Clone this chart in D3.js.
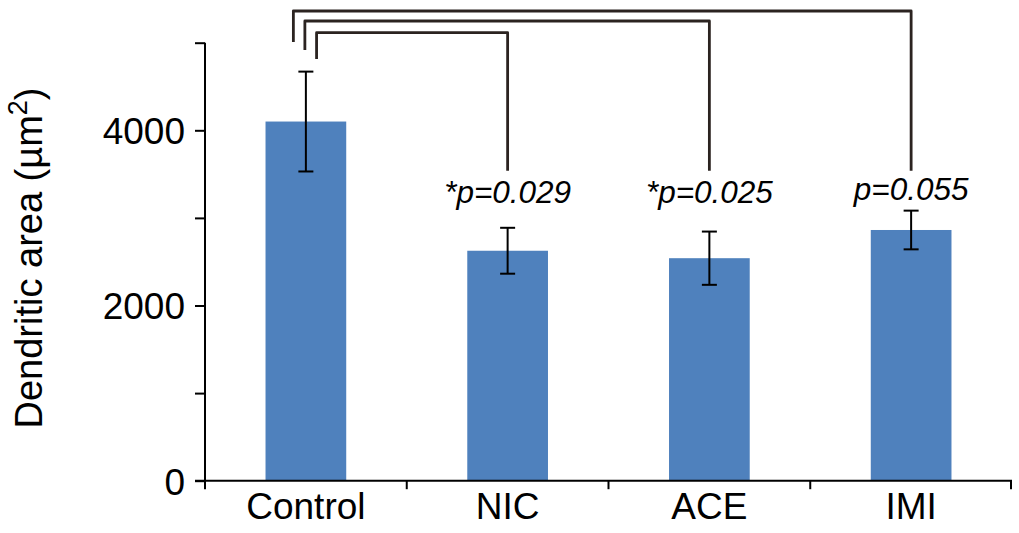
<!DOCTYPE html>
<html>
<head>
<meta charset="utf-8">
<script src="https://cdn.jsdelivr.net/npm/d3@7"></script>
<style>
  html, body { margin: 0; padding: 0; background: #fff; }
  svg { display: block; }
  text { font-family: "Liberation Sans", Arial, sans-serif; fill: #000; }
</style>
</head>
<body>
<svg id="chart" width="1019" height="533"></svg>
<script>
// Mean dendritic area per treatment group, with standard error
const categories = ["Control", "NIC", "ACE", "IMI"];
const meanArea = [4100, 2625, 2540, 2862];
const errArea = [570, 262, 304, 221];

// Y axis ticks (minor ticks every 1000, labels every 2000)
const yTicks = [0, 1000, 2000, 3000, 4000, 5000];
const yTickLabels = ["0", "", "2000", "", "4000", ""];

// Pairwise comparisons against Control
const compareTo = ["IMI", "ACE", "NIC"];
const compareP = ["p=0.055", "*p=0.025", "*p=0.029"];

const svg = d3.select("#chart");
const W = 1019, H = 533;
const m = { left: 205, right: 7, top: 42.7, bottom: 52.3 };

const x = d3.scaleBand()
  .domain(categories)
  .range([m.left, W - m.right])
  .paddingInner(0.6)
  .paddingOuter(0.3);

const y = d3.scaleLinear()
  .domain([0, 5000])
  .range([H - m.bottom, m.top]);

const step = x.step();
const x0 = m.left;
const yBase = y(0);

// Bars
svg.append("g").selectAll("rect")
  .data(categories)
  .join("rect")
  .attr("x", d => x(d))
  .attr("width", x.bandwidth())
  .attr("y", (d, i) => y(meanArea[i]))
  .attr("height", (d, i) => yBase - y(meanArea[i]))
  .attr("fill", "#4f81bd");

// Error bars
const eb = svg.append("g").attr("stroke", "#000").attr("stroke-width", 2).attr("fill", "none");
categories.forEach((c, i) => {
  const cx = x(c) + x.bandwidth() / 2;
  const hi = y(meanArea[i] + errArea[i]);
  const lo = y(meanArea[i] - errArea[i]);
  eb.append("line").attr("x1", cx).attr("x2", cx).attr("y1", hi).attr("y2", lo);
  eb.append("line").attr("x1", cx - 7.5).attr("x2", cx + 7.5).attr("y1", hi).attr("y2", hi);
  eb.append("line").attr("x1", cx - 7.5).attr("x2", cx + 7.5).attr("y1", lo).attr("y2", lo);
});

// Y axis
const yAxis = d3.axisLeft(y)
  .tickValues(yTicks)
  .tickSize(10)
  .tickPadding(10)
  .tickFormat((d, i) => yTickLabels[i]);

const gy = svg.append("g")
  .attr("transform", `translate(${x0},0)`)
  .call(yAxis);
gy.select(".domain").attr("d", `M0,${y(5000)}V${yBase}`).attr("stroke", "#000").attr("stroke-width", 2);
gy.selectAll(".tick line").attr("stroke", "#000").attr("stroke-width", 2);
gy.selectAll(".tick text")
  .attr("font-size", 37)
  .attr("dy", "0.36em")
  .style("font-family", "'Liberation Sans', Arial, sans-serif");

// X axis: baseline, category boundary ticks, labels
const gx = svg.append("g").attr("stroke", "#000").attr("stroke-width", 2);
gx.append("line")
  .attr("x1", x0 - 10).attr("x2", W - m.right)
  .attr("y1", yBase).attr("y2", yBase);
d3.range(categories.length + 1).forEach(i => {
  const tx = Math.min(x0 + i * step, W - m.right - 1);
  gx.append("line").attr("x1", tx).attr("x2", tx).attr("y1", yBase).attr("y2", yBase + 8.5);
});

svg.append("g").selectAll("text")
  .data(categories)
  .join("text")
  .attr("x", d => x(d) + x.bandwidth() / 2)
  .attr("y", 519)
  .attr("text-anchor", "middle")
  .attr("font-size", 37)
  .text(d => d);

// Y axis title
const title = svg.append("text")
  .attr("transform", "translate(42,258) rotate(-90)")
  .attr("text-anchor", "middle")
  .attr("font-size", 38);
title.append("tspan").text("Dendritic area (µm");
title.append("tspan").attr("font-size", 27).attr("dy", -15).text("2");
title.append("tspan").attr("dy", 15).text(")");

// Comparison brackets
const bracketTop = [11, 21, 32.7];
const bracketLeftEnd = [42, 50, 59];
const bracketLeftX = [-12.5, -1, 10.7];
const bracketRightEnd = 170.7;
const ctrlX = x("Control") + x.bandwidth() / 2;

const gb = svg.append("g")
  .attr("stroke", "#2b2320")
  .attr("stroke-width", 2.8)
  .attr("fill", "none")
  .attr("stroke-linejoin", "round");
compareTo.forEach((c, i) => {
  const lx = ctrlX + bracketLeftX[i];
  const rx = x(c) + x.bandwidth() / 2;
  const path = d3.path();
  path.moveTo(lx, bracketLeftEnd[i]);
  path.lineTo(lx, bracketTop[i]);
  path.lineTo(rx, bracketTop[i]);
  path.lineTo(rx, bracketRightEnd);
  gb.append("path").attr("d", path.toString());
});

// P-value labels
svg.append("g").selectAll("text")
  .data(compareTo)
  .join("text")
  .attr("x", d => x(d) + x.bandwidth() / 2)
  .attr("y", (d, i) => compareP[i].startsWith("*") ? 203 : 200)
  .attr("text-anchor", "middle")
  .attr("font-size", 31.5)
  .attr("font-style", "italic")
  .text((d, i) => compareP[i]);
</script>
</body>
</html>
